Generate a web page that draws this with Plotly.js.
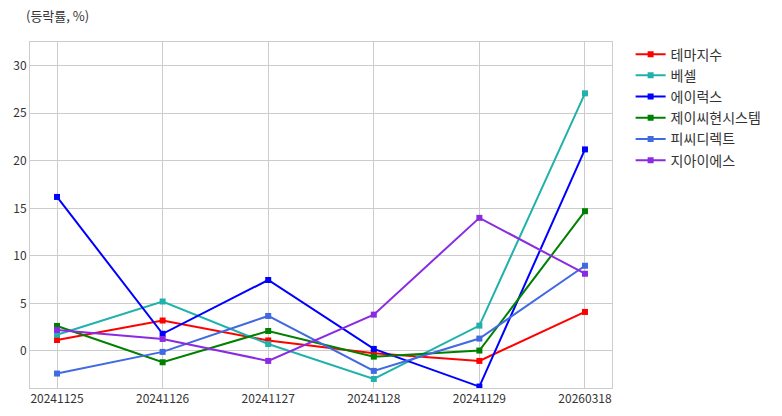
<!DOCTYPE html>
<html>
<head>
<meta charset="utf-8">
<script src="https://cdn.plot.ly/plotly-3.0.1.min.js"></script>
<style>
  html, body { margin: 0; padding: 0; background: #fff; }
  #chart { width: 782px; height: 416px; }
</style>
</head>
<body>
<div id="chart"></div>
<script>
  var dates = ["20241125", "20241126", "20241127", "20241128", "20241129", "20260318"];
  var names = ["테마지수", "베셀", "에이럭스", "제이씨현시스템", "피씨디렉트", "지아이에스"];
  var colors = ["#ff0000", "#20b2aa", "#0000ff", "#008000", "#4169e1", "#8a2be2"];

  var themeIdx = [1.15, 3.2, 1.1, -0.25, -1.05, 4.1];
  var vessel = [1.7, 5.2, 0.73, -2.95, 2.66, 27.1];
  var airux = [16.2, 1.8, 7.46, 0.21, -3.75, 21.2];
  var jcHyun = [2.63, -1.19, 2.1, -0.6, 0.04, 14.7];
  var pcDirect = [-2.38, -0.1, 3.68, -2.1, 1.3, 8.96];
  var gis = [2.2, 1.26, -1.05, 3.82, 14.0, 8.12];

  var series = [themeIdx, vessel, airux, jcHyun, pcDirect, gis];

  var font = "'Noto Sans CJK KR', 'Noto Sans', sans-serif";

  var traces = series.map(function (vals, i) {
    return {
      x: dates,
      y: vals,
      name: names[i],
      type: "scatter",
      mode: "lines+markers",
      line: { color: colors[i], width: 2 },
      marker: { color: colors[i], symbol: "square", size: 6 },
    };
  });

  Plotly.newPlot(
    "chart",
    traces,
    {
      width: 782,
      height: 416,
      margin: { t: 42, r: 170, b: 28, l: 30 },
      paper_bgcolor: "#ffffff",
      plot_bgcolor: "#ffffff",
      font: { family: font, size: 12, color: "#333333" },
      xaxis: {
        type: "category",
        range: [-0.256, 5.256],
        showgrid: true,
        gridcolor: "#cccccc",
        gridwidth: 1,
        showline: true,
        linecolor: "#cccccc",
        mirror: true,
        ticks: "",
        zeroline: false,
        tickfont: { size: 12, color: "#333333" },
      },
      yaxis: {
        range: [-3.9, 32.5],
        dtick: 5,
        tick0: 0,
        showgrid: true,
        gridcolor: "#cccccc",
        gridwidth: 1,
        showline: true,
        linecolor: "#cccccc",
        mirror: true,
        ticks: "",
        zeroline: false,
        tickfont: { size: 12, color: "#333333" },
      },
      showlegend: true,
      legend: {
        x: 1.032,
        xanchor: "left",
        y: 1.01,
        yanchor: "top",
        font: { family: font, size: 14, color: "#333333" },
        bgcolor: "rgba(0,0,0,0)",
      },
      annotations: [
        {
          text: "(등락률, %)",
          xref: "paper",
          yref: "paper",
          x: -0.01,
          y: 1.0,
          xanchor: "left",
          yanchor: "bottom",
          yshift: 15,
          showarrow: false,
          font: { family: font, size: 13, color: "#333333" },
        },
      ],
    },
    { displayModeBar: false, staticPlot: true }
  );
</script>
</body>
</html>
